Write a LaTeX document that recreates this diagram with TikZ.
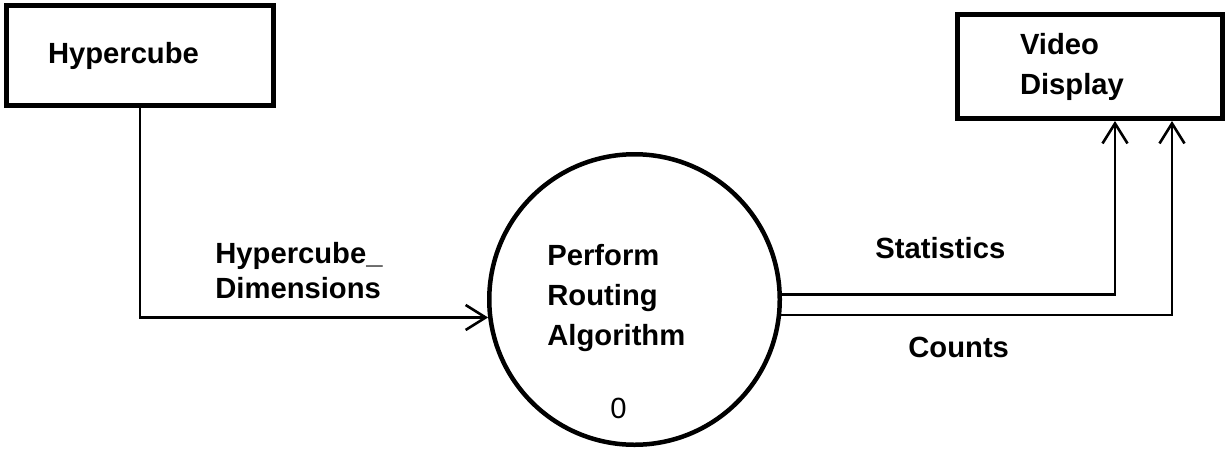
\documentclass[tikz,border=0pt]{standalone}
\usepackage{fontspec}
\setmainfont{Liberation Sans}
\usetikzlibrary{arrows.meta}
\begin{document}
\begin{tikzpicture}[x=0.5pt,y=-0.5pt,
  every node/.style={font=\fontsize{14.6}{20}\selectfont\bfseries},
  store/.style={draw,line width=2.5pt,rectangle,align=left},
  process/.style={draw,circle,line width=2.25pt,minimum size=145.25pt,inner sep=0pt},
  flow/.style={line width=1.3pt,-{Straight Barb[length=10pt,width=12.5pt,line width=1.3pt]}},
  flowlabel/.style={anchor=north west,inner sep=0pt,align=left}]
% canvas
\fill[white] (0,0) rectangle (1230,451);
\useasboundingbox (0,0) rectangle (1230,451);

% external entities
\node[store,minimum height=50pt,inner xsep=20.75pt,text width=92pt] (hc) at (140,55.5) {Hypercube};
\node[store,minimum height=52pt,inner xsep=31.25pt,text width=70pt] (vd) at (1090,66.5) {Video\\Display};

% process bubble
\node[process] (proc) at (634.5,299.5) {};
\node[flowlabel] (proctext) at (547,244) {Perform\\Routing\\Algorithm};
\node[flowlabel,font=\fontsize{14.6}{20}\selectfont] (procnum) at (610,398) {0};

% data flows
\draw[flow] (hc.south) |- (proc.187);
\draw[flow] (proc.2) -| ([xshift=12.5pt]vd.south);
\draw[flow] (proc.354) -| ([xshift=41pt]vd.south);

% flow labels
\node[flowlabel,font=\fontsize{14.6}{17.5}\selectfont\bfseries] (dimlabel) at (215,242) {Hypercube\_\\Dimensions};
\node[flowlabel] (statlabel) at (875,237) {Statistics};
\node[flowlabel] (countlabel) at (908,337) {Counts};
\end{tikzpicture}
\end{document}
